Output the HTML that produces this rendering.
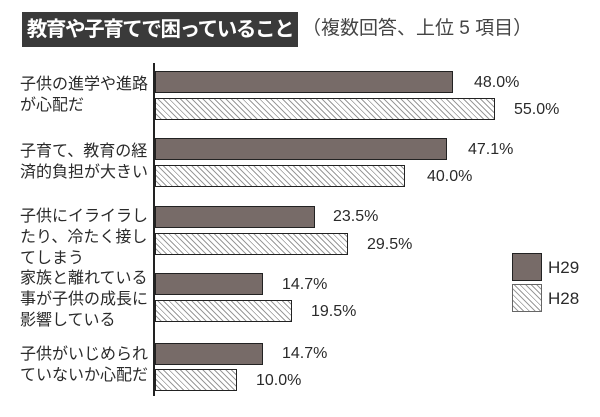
<!DOCTYPE html>
<html><head><meta charset="utf-8"><style>
body{margin:0;background:#fff;width:600px;height:417px;overflow:hidden;position:relative;font-family:"Liberation Sans","Noto Sans CJK JP",sans-serif;color:#222}
.a{position:absolute}
.lbl{position:absolute;left:20px;font-size:16px;line-height:21px;white-space:nowrap;color:#2a2a2a}
.pct{position:absolute;font-size:16px;color:#2a2a2a}
.b1{position:absolute;left:155px;height:22px;background:#776b68;border:1px solid #222;box-sizing:border-box}
.b2{position:absolute;left:155px;height:22px;border:1px solid #222;box-sizing:border-box;background:repeating-linear-gradient(45deg,#fff 0 3px,#9a9a9a 3px 4px)}
</style></head><body>
<div class="a" style="left:22px;top:12px;width:276px;height:35px;background:#3a3a3a;color:#fff;font-weight:bold;font-size:20.5px;letter-spacing:-1.4px;line-height:35px;text-align:center;white-space:nowrap">教育や子育てで困っていること</div>
<div class="a" style="left:302px;top:14px;font-size:19px;line-height:30px;color:#444;white-space:nowrap">（複数回答、上位 5 項目）</div>
<div class="a" style="left:153px;top:63px;width:2px;height:333px;background:#222"></div>

<div class="lbl" style="top:74px">子供の進学や進路<br>が心配だ</div>
<div class="b1" style="top:71px;width:298px"></div><div class="pct" style="left:474px;top:74px">48.0%</div>
<div class="b2" style="top:98px;width:340px"></div><div class="pct" style="left:514px;top:101px">55.0%</div>

<div class="lbl" style="top:141px">子育て、教育の経<br>済的負担が大きい</div>
<div class="b1" style="top:138px;width:292px"></div><div class="pct" style="left:468px;top:141px">47.1%</div>
<div class="b2" style="top:165px;width:250px"></div><div class="pct" style="left:427px;top:168px">40.0%</div>

<div class="lbl" style="top:206px">子供にイライラし<br>たり、冷たく接し<br>てしまう</div>
<div class="b1" style="top:206px;width:160px"></div><div class="pct" style="left:333px;top:208px">23.5%</div>
<div class="b2" style="top:233px;width:193px"></div><div class="pct" style="left:367px;top:236px">29.5%</div>

<div class="lbl" style="top:268px">家族と離れている<br>事が子供の成長に<br>影響している</div>
<div class="b1" style="top:273px;width:108px"></div><div class="pct" style="left:282px;top:276px">14.7%</div>
<div class="b2" style="top:300px;width:137px"></div><div class="pct" style="left:311px;top:303px">19.5%</div>

<div class="lbl" style="top:344px">子供がいじめられ<br>ていないか心配だ</div>
<div class="b1" style="top:343px;width:108px"></div><div class="pct" style="left:282px;top:345px">14.7%</div>
<div class="b2" style="top:369px;width:82px"></div><div class="pct" style="left:256px;top:372px">10.0%</div>

<div class="b1" style="left:512px;top:253px;width:30px;height:28px"></div>
<div class="pct" style="left:548px;top:258px;font-size:17px">H29</div>
<div class="b2" style="left:512px;top:284px;width:30px;height:28px;border-color:#666"></div>
<div class="pct" style="left:548px;top:289px;font-size:17px">H28</div>
</body></html>
